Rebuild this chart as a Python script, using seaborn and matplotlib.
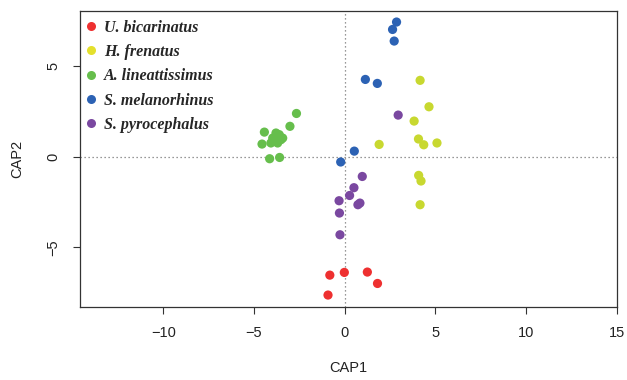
import matplotlib
matplotlib.use("Agg")
import matplotlib.pyplot as plt
import seaborn as sns
import pandas as pd
from matplotlib.lines import Line2D

species = ["U. bicarinatus", "H. frenatus", "A. lineattissimus", "S. melanorhinus", "S. pyrocephalus"]
colors = ["#EE3030", "#C8D830", "#66BE4C", "#2C62B4", "#7A48A0"]
legend_colors = ["#EE3030", "#E4E02C", "#66BE4C", "#2C62B4", "#7A48A0"]

u_x = [-0.82, -0.02, 1.25, 1.81, -0.92]
u_y = [-6.54, -6.39, -6.37, -7.00, -7.64]

h_x = [4.16, 4.65, 3.83, 1.90, 4.07, 4.36, 5.09, 4.08, 4.21, 4.16]
h_y = [4.22, 2.76, 1.97, 0.68, 0.98, 0.66, 0.76, -1.03, -1.34, -2.65]

a_x = [-2.66, -3.02, -4.43, -4.56, -4.14, -3.59, -3.79, -3.61, -3.97, -3.52, -3.88, -3.70, -4.07, -3.42]
a_y = [2.39, 1.68, 1.36, 0.70, -0.11, -0.04, 1.31, 1.22, 1.03, 0.94, 0.85, 0.76, 0.76, 1.03]

s_m_x = [2.86, 2.64, 2.73, 1.14, 1.80, 0.53, -0.22]
s_m_y = [7.44, 7.03, 6.39, 4.27, 4.05, 0.31, -0.29]

s_p_x = [2.95, 0.97, 0.51, 0.27, -0.31, 0.84, 0.73, -0.29, -0.26]
s_p_y = [2.30, -1.09, -1.71, -2.14, -2.43, -2.56, -2.65, -3.11, -4.31]

xs = [u_x, h_x, a_x, s_m_x, s_p_x]
ys = [u_y, h_y, a_y, s_m_y, s_p_y]
rows = []
for sp, xx, yy in zip(species, xs, ys):
    for a, b in zip(xx, yy):
        rows.append({"CAP1": a, "CAP2": b, "species": sp})
df = pd.DataFrame(rows)

sns.set_style("ticks")
plt.rcParams["font.family"] = ["Liberation Sans", "DejaVu Sans"]

fig = plt.figure(figsize=(6.27, 3.80), dpi=100)
ax = fig.add_axes([80/627, 1-307/380, (617-80)/627, (307-11)/380])

ax.axhline(0, color="#777777", lw=0.9, ls=(0, (1, 2.2)), zorder=1)
ax.axvline(0, color="#777777", lw=0.9, ls=(0, (1, 2.2)), zorder=1)

sns.scatterplot(data=df, x="CAP1", y="CAP2", hue="species", hue_order=species,
                palette=colors, s=44, edgecolor="none", ax=ax, legend=False, zorder=3)

ax.set_xlim(-14.6, 15.02)
ax.set_ylim(-8.3, 8.05)
ax.set_xticks([-10, -5, 0, 5, 10, 15])
ax.set_yticks([-5, 0, 5])
ax.tick_params(axis="both", direction="out", length=5, width=0.8, color="#333333",
               labelsize=10.5, labelcolor="#222222", pad=9)
for lab in ax.get_yticklabels():
    lab.set_rotation(90)
    lab.set_va("center")
for sp in ax.spines.values():
    sp.set_color("#333333")
    sp.set_linewidth(0.9)
ax.set_xlabel("CAP1", fontsize=10.5, color="#222222", labelpad=15)
ax.set_ylabel("CAP2", fontsize=10.5, color="#222222", labelpad=16)

handles = [Line2D([0], [0], marker="o", color="none", markerfacecolor=c,
                  markeredgecolor="none", markersize=6.5) for c in legend_colors]
leg = ax.legend(handles, species, loc="upper left", frameon=False,
                bbox_to_anchor=(-0.008, 1.003), handlelength=0.7, handletextpad=0.45,
                labelspacing=0.52, borderaxespad=0.2, borderpad=0.4,
                prop={"family": "Liberation Serif", "style": "italic", "weight": "bold", "size": 11.5})

fig.savefig("out.png", dpi=100)
